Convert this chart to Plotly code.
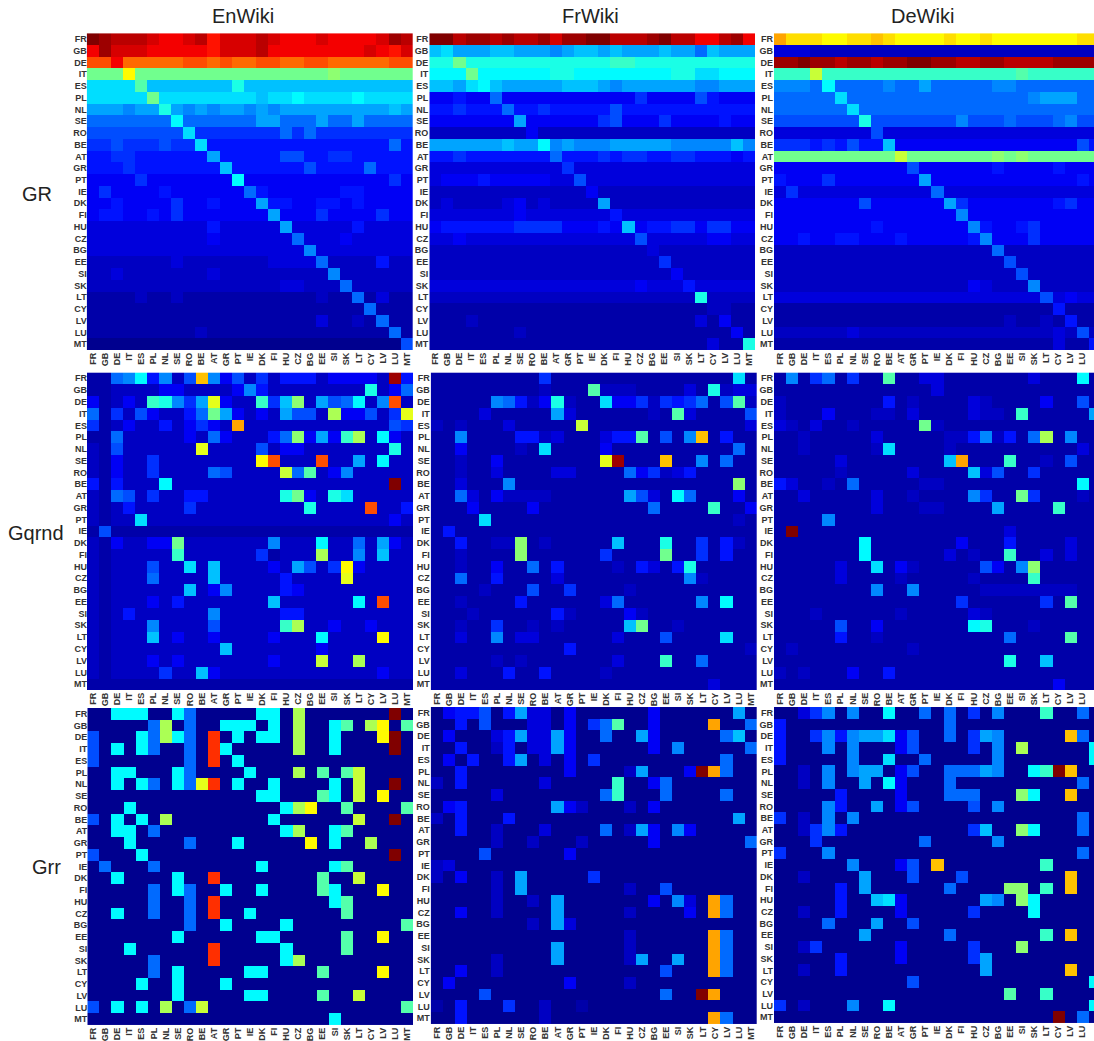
import plotly.graph_objects as go

COUNTRIES = ["FR","GB","DE","IT","ES","PL","NL","SE","RO","BE","AT","GR","PT","IE","DK","FI","HU","CZ","BG","EE","SI","SK","LT","CY","LV","LU","MT"]
COLUMN_TITLES = ["EnWiki", "FrWiki", "DeWiki"]
ROW_TITLES = ["GR", "Gqrnd", "Grr"]

# Each character is one cell, base-36 level 0..35 on the jet scale.
EN_GR = [
"zyxxx wvvwx uwwwx wvvvw vvvvw yx","vywww vvvvv uwwwx vvvvv vvvwv uw","ssvrr rrrss rsrrs srrss rrrrr ss",
"hhhmh hhhhh hhhhh hhhhh ihhhh hh","ccccg bbbbb bbebb bbbbb bbbbb bb","ccccc hcccc ccccb ccdcc ccdcc cc",
"aaa9a aea9a 9aa9a 9aaaa aaaaa ba","88888 88d88 8888a a888a 88a88 88","77777 777c6 66666 68686 66666 66",
"66766 6766c 55555 55555 55555 85","55665 55555 a5555 57755 66555 55","55565 55555 5b555 55575 55585 55",
"44446 44444 44d44 44444 44444 64","46444 45444 44485 44444 45544 44","44544 44644 5444a 55445 54544 44",
"45544 54644 44444 a4446 44446 44","33333 33333 53333 3a333 33533 33","33333 33333 43333 33833 34333 33",
"33333 33333 33333 33393 33333 33","22222 22322 22222 33338 22225 22","22322 22222 32222 22222 92222 22",
"22222 22222 22222 23322 28222 22","11112 11211 11111 11112 11813 11","11111 11111 11111 11111 11181 11",
"11111 11111 11111 11113 11218 11","11111 11112 11111 11111 11111 81","00000 00000 00000 00000 00000 07",
]
FR_GR = [
"zzxyy xyxxy wyyzz xxxyz xxvvx yv","bcaaa bbaaa 9abba baaab aa8ba aa","eehee eeeee eeeee ffeee eeeee ee",
"dddhd ddddd eeddd ddddd eeccd dd","bbacd baaaa abbba 9aaaa aa99a aa","44544 84444 44444 44644 44754 44",
"55655 58556 55555 75555 55555 55","44444 44a44 44446 74446 44445 44","22222 22242 22222 22222 22222 22",
"aaaaa abaad 9a999 aaaaa 99999 b9","55655 55555 85556 56655 66555 45","33333 33333 36333 33333 33333 33",
"34445 44444 33733 33333 33333 33","22222 22222 22242 22222 22222 22","23222 23423 2222a 22222 22222 22",
"33333 33433 33333 53333 33333 33","45555 55666 64445 4b455 66466 44","33433 33333 33333 33733 33344 33",
"22222 22222 22222 22232 22222 22","22222 22222 22222 22226 22222 22","22222 22222 22222 22222 42222 22",
"33333 33333 33333 33433 35333 33","22222 22222 22222 22222 22e22 22","11111 11111 11111 11111 11122 11",
"11121 11111 11111 11111 11314 11","11111 11211 11111 11111 11111 41","11111 11111 11111 11111 11131 1e",
]
DE_GR = [
"pnnnm mnnon mmmmn mmnmm mmmmm nn","33322 22222 22222 22222 22222 22","yyzyy xyyxy yzzyy xxyyx xxxyy yy",
"fffkf fffff fffff fffff gffff ff","9998d 88889 88a88 88899 88888 88","88888 c8888 88888 88888 89aaa 88",
"88888 8c888 88888 88888 88888 88","77777 77e77 77777 97778 77789 77","33333 33373 33333 33333 33333 33",
"66656 5755b 44444 44444 44444 75","hhhhh hhhhh khhhh hhhih ihhhh hh","44444 44444 47444 44454 44454 44",
"54446 44444 44a44 44444 44444 54","36333 33333 33383 33333 33333 33","44444 44744 4444a 64444 44456 44",
"44444 44444 44444 94444 44444 44","44444 44454 44444 49544 56444 44","44544 55444 54444 45944 46444 44",
"22222 22222 22222 22282 22222 22","22222 22222 22222 22227 22222 22","22222 22222 22222 22222 72222 22",
"22222 22222 22222 24322 29222 22","33333 33333 33333 33333 33734 33","11111 11111 11111 11111 11151 11",
"11111 11111 11111 11112 11215 11","22222 23222 22222 22222 22232 72","11111 11111 11111 11111 11131 15",
]
EN_QR = [
"1189d 5927o 94726 25552 44442 y5","11222 24422 22495 22222 222e2 48","41242 fe96a l422f 6bi2a 78d29 s2",
"81627 42258 ha424 2a772 j4472 6l","61242 25246 42p22 22222 22222 76","11822 22242 84222 58i4a 4fj2d 42",
"21722 2222l 22227 24422 22222 e2","21422 62222 2222m s222s 22a2d 22","21422 62222 87222 2k8g2 49222 22",
"51522 2d222 22222 22222 22222 z2","21872 62255 22222 2eh42 ec222 22","21252 22262 22222 222e2 222s2 25",
"2122c 22222 22222 22222 22222 42","17111 11111 11111 11111 11111 11","21422 44h22 22222 9222d 2282a 42",
"21222 22f22 22226 1222j 2292b 22","21222 722c2 b2222 42a72 6m422 22","21222 82222 b2222 25222 2l222 22",
"21222 222b2 49222 25422 22222 22","21222 42522 22222 b2222 22d2s 22","21252 22222 92222 25522 22222 22",
"21222 92222 72222 2fj22 42242 22","21222 b2422 42222 4222d 2222m 22","21222 22222 2b222 22224 22222 22",
"21222 42422 22222 4222k 22j22 22","21222 2622b 42222 22222 22224 22","11111 11111 11111 11111 11111 11",
]
FR_QR = [
"11111 11116 11111 11111 11111 c1","11111 11112 111g2 22111 131e2 33","11111 98524 e211c 44626 56817 g2",
"11113 11111 a3111 11121 g3111 17","21211 13111 11k11 11111 11111 13","11911 11552 31113 55g17 19o15 11",
"11411 1121c 11114 11111 11111 81","11211 41111 1111l y111o 11918 11","11211 31111 33111 18462 35111 11",
"11311 19111 11111 11111 11111 i1","11831 42222 11111 1a731 d8111 41","11141 11141 11111 11181 111f1 14",
"1111c 11111 11111 11111 11111 21","15111 11111 11111 11111 11111 11","11511 22i12 11111 b111e 11615 21",
"11211 11i11 11116 1111h 11615 11","11211 41181 51111 21531 5e111 11","11811 51111 31111 11111 19211 11",
"11112 11171 16111 12111 11111 11","11211 11511 11113 81111 1191d 11","11121 11111 52111 14211 11111 11",
"11211 61121 21111 1bh11 21111 11","11311 91331 11111 31117 1111c 11","11111 11111 15111 11111 11111 12",
"11111 21211 11111 3111f 11811 11","11311 15115 11112 11111 11111 11","11111 11111 11111 11111 11131 11",
]
DE_QR = [
"19168 1611g 11331 11111 13111 d1","11111 11111 11131 11111 11111 11","21111 11115 12111 13211 11411 71",
"21114 11122 13111 13221 f1111 1a","32131 12111 11h21 11111 11111 11","11211 11131 11112 25925 18j19 11",
"11211 1112c 11112 11111 11111 31","11111 31111 1111b p111f 11217 11","11111 21111 13111 1b371 16111 11",
"53112 18111 11221 11111 11111 d1","11311 11131 12111 19611 h6111 21","11111 11131 11221 111a1 111f1 11",
"11119 11111 11111 11111 11111 11","1z111 11111 11111 11113 11111 11","11111 11d11 11111 41115 11113 11",
"11111 11d11 11113 1211f 11313 11","11111 311c1 42111 11741 9i111 11","11111 31111 21111 12111 1f111 11",
"11111 11191 19111 11222 22222 11","11111 11111 11111 61111 1161g 11","11121 11111 21111 13211 11111 11",
"11111 71141 11111 1de11 12111 11","11111 51121 11111 11118 1111g 11","12111 11111 12111 11111 11111 11",
"11111 11111 11111 1111e 11b11 11","21211 14115 11111 11111 11111 11","11111 11111 11111 11111 11141 11",
]
EN_RR = [
"00ddd 00d80 0000d d0j00 00000 z0","00000 8j080 0ddd0 d0j00 dg0jm 0g","7000d 8jd80 t0d0d d0j00 d000m z0",
"70d0d 80080 td000 00j00 d0000 z0","70000 00080 t0d00 00000 00000 00","00dd0 00d80 000d0 00j0g 0gk00 00",
"00d0d 80d8l t0d00 d0000 d0k00 z0","00000 00000 0000d d000g d0k0m 00","000d0 00000 00000 0djm0 0g000 0g",
"70d0d 0j000 00000 d0000 00k00 z0","00dd0 80000 00000 0dj00 dg000 00","000d0 00080 00d00 000m0 d00j0 00",
"7000d 00000 00000 00000 00000 z0","08000 80000 0000d 00000 dg000 00","00d00 00d00 t0000 0000g 00k00 00",
"00000 80d80 0d00d 0000g d000m 00","00000 80080 t0000 00000 dg000 00","00d00 80080 t00d0 00000 0g000 00",
"00000 00080 0d000 0d000 00000 0g","00000 00d00 0000d d0000 0g00m 00","000d0 00000 t0000 0d000 0g000 00",
"00000 80000 t0000 0dj00 00000 00","00000 80d00 000dd 0000g 0000m 00","0000d 00d00 0d000 00000 00000 00",
"00000 00d00 000dd 0000g 00k00 00","70d0d 0j08k 00000 00000 00000 0g","00000 00000 00000 00000 d0000 00",
]
FR_RR = [
"04557 05a33 04000 00040 00000 a0","00507 00033 04068 g0040 000p0 08","04000 35a33 a4008 00a40 00008 b0",
"00500 25033 a4000 00040 90000 08","04050 05a03 04060 00000 00008 00","00500 00000 04000 02a00 04zp8 00",
"20500 00003 00000 f0048 00000 00","00000 30000 00008 f0008 00008 00","04500 00000 a4200 02040 00000 00",
"20500 05000 00000 00000 00000 a0","00500 20003 00008 02a40 94000 00","00000 20020 00200 00040 00000 08",
"00007 00000 04000 00000 00000 00","23000 00000 00000 00000 00000 00","20400 20a00 00060 00000 00000 00",
"00000 20a00 00000 02007 00000 00","00000 20020 a0000 00040 930p8 00","00400 20000 a0000 02000 040p8 00",
"00000 00020 a3000 00000 00000 00","00000 00000 00000 02000 000p8 00","00000 00000 a0000 02000 000p8 00",
"00000 20000 a0000 02a00 a00p8 00","00400 20000 00000 00007 000p8 00","04000 00000 04000 02000 00000 00",
"00007 00000 00000 00008 00zp0 00","10500 06002 00100 00000 00000 00","00500 00002 00000 00000 000p8 00",
]
DE_RR = [
"00369 0900d 00808 06090 00f00 80","50000 00000 00008 00000 00000 00","50069 59aac 47008 06a90 0000o 80",
"50009 09000 47000 06090 j0000 0d","50000 0900c 00800 00090 00000 0d","00209 09aa0 47008 88a90 0dfzo 00",
"00209 00a0d 40008 00000 00000 80","00000 50000 40008 88000 id00o 00","00009 500a0 47000 07090 00000 00",
"60209 09000 00000 00000 00000 80","00269 50000 00000 06b00 id000 80","00060 00000 00800 00090 00000 00",
"60009 00000 00000 00000 00000 80","00000 09000 470o0 00000 00f00 00","00200 00a00 07000 70000 0000o 00",
"00000 50a00 00008 0000i i0f0o 00","00000 500bc 40000 00a90 id000 00","00200 50000 40000 06000 0d000 00",
"00008 000a0 07000 00000 00000 00","00000 00a00 00008 00000 00f0o 00","00260 00000 40000 06000 i0000 00",
"00000 50000 40000 06a00 00000 00","00200 50000 00000 00a00 0000o 00","00000 00000 07000 00000 00000 0d",
"00000 00000 00000 0000g 00f00 00","60200 0900d 00000 00000 00000 0d","00000 00000 00000 00000 000z0 80",
]

PANELS = [EN_GR, FR_GR, DE_GR, EN_QR, FR_QR, DE_QR, EN_RR, FR_RR, DE_RR]

W, H = 1094, 1041
CELL = 12.1
BOXES = [  # left, right, top, bottom in pixels
    (86.7, 413, 33.3, 351), (429.3, 755, 33.3, 351), (774, 1094, 33.3, 351),
    (87, 413, 373.5, 692), (430.7, 757, 373.5, 692), (774, 1094, 373.5, 692),
    (87.3, 413, 710, 1028), (430.7, 757, 709, 1027), (774, 1094, 709, 1026),
]
JET = [[0, "#00008f"], [0.125, "#0000ff"], [0.375, "#00ffff"], [0.625, "#ffff00"], [0.875, "#ff0000"], [1, "#800000"]]


def decode(rows):
    out = []
    for i, r in enumerate(rows):
        s = r.replace(" ", "")
        assert len(s) == 27, (i, r)
        out.append([int(c, 36) for c in s])
    assert len(out) == 27
    return out


fig = go.Figure()
tickfont = dict(family="Liberation Sans", size=9, color="#333333", weight="bold")
for k, (rows, (l, r, t, b)) in enumerate(zip(PANELS, BOXES)):
    suffix = "" if k == 0 else str(k + 1)
    fig.add_trace(go.Heatmap(z=decode(rows), x=COUNTRIES, y=COUNTRIES, zmin=0, zmax=35,
                             colorscale=JET, showscale=False, xaxis="x" + suffix, yaxis="y" + suffix,
                             hoverinfo="skip"))
    # right column runs past the page edge in the reference, so its range stops short of the last cell
    xmax = -0.5 + (r - l) / CELL if k % 3 == 2 else 26.5
    fig.layout["xaxis" + suffix] = dict(domain=[l / W, r / W], anchor="y" + suffix, type="category",
                                        range=[-0.5, xmax], tickmode="array", tickvals=COUNTRIES,
                                        ticktext=COUNTRIES, tickangle=-90, ticks="", tickfont=tickfont,
                                        showgrid=False, zeroline=False, showline=False)
    fig.layout["yaxis" + suffix] = dict(domain=[1 - b / H, 1 - t / H], anchor="x" + suffix, type="category",
                                        range=[26.5, -0.5], tickmode="array", tickvals=COUNTRIES,
                                        ticktext=COUNTRIES, ticks="", tickfont=tickfont,
                                        ticklabelstandoff=-1 if k % 3 == 0 else 0,
                                        showgrid=False, zeroline=False, showline=False)

anns = []
for text, x in zip(COLUMN_TITLES, [243, 590, 922]):
    anns.append(dict(text=text, x=x / W, y=1 - 16 / H, xref="paper", yref="paper", showarrow=False,
                     xanchor="center", yanchor="middle", font=dict(family="Liberation Sans", size=20, color="#222222")))
for text, x, y, s in zip(ROW_TITLES, [37, 36, 46], [195, 535, 870], [20, 20, 20]):
    anns.append(dict(text=text, x=x / W, y=1 - y / H, xref="paper", yref="paper", showarrow=False,
                     xanchor="center", yanchor="middle", font=dict(family="Liberation Sans", size=s, color="#222222")))
fig.update_layout(width=W, height=H, autosize=False, margin=dict(l=0, r=0, t=0, b=0),
                  paper_bgcolor="white", plot_bgcolor="white", showlegend=False, annotations=anns)
fig.write_html("out.html", config={"displayModeBar": False},
               post_script="document.body.style.margin='0';document.body.style.overflow='hidden';")
